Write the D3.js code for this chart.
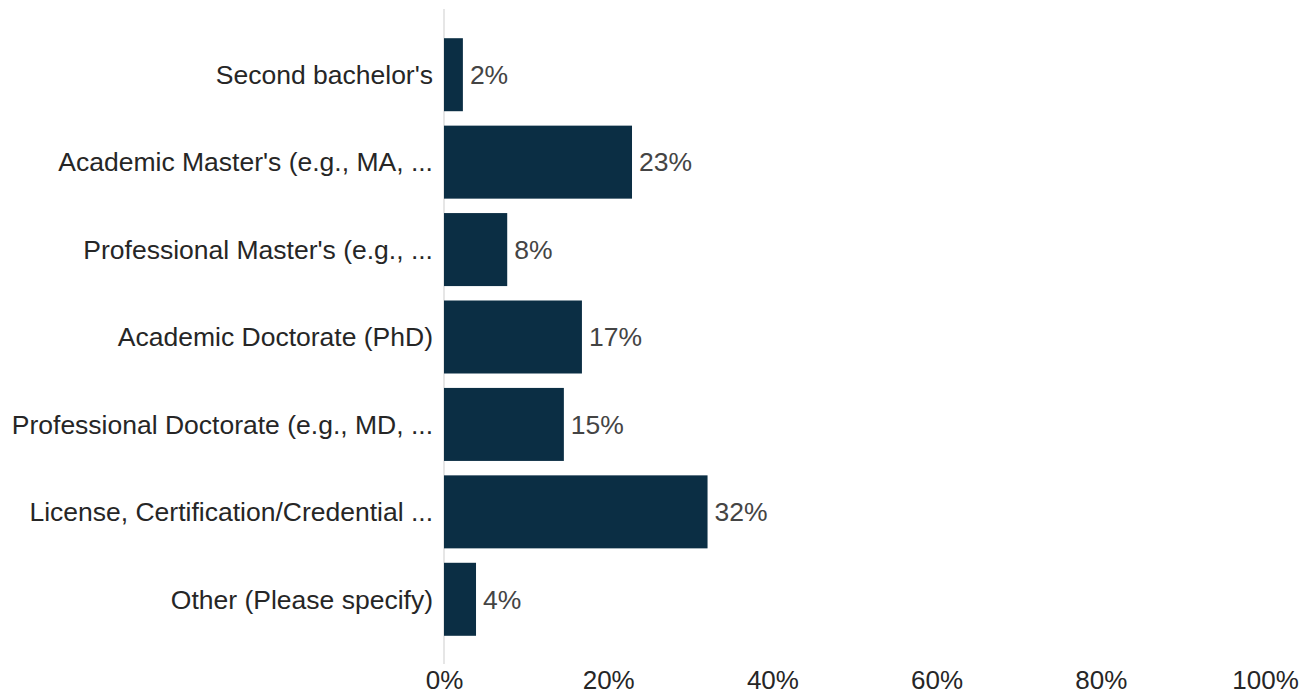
<!DOCTYPE html>
<html><head><meta charset="utf-8">
<script src="https://cdn.jsdelivr.net/npm/d3@7"></script>
<style>body{margin:0;background:#fff;}svg{display:block;}</style>
</head><body>
<svg id="chart" width="1307" height="694"></svg>
<script>
const categories = ["Second bachelor's","Academic Master's (e.g., MA, ...","Professional Master's (e.g., ...","Academic Doctorate (PhD)","Professional Doctorate (e.g., MD, ...","License, Certification/Credential ...","Other (Please specify)"];
const values = [2.3, 22.9, 7.7, 16.8, 14.6, 32.1, 3.9];
const valueLabels = ["2%","23%","8%","17%","15%","32%","4%"];
const tickValues = [0,20,40,60,80,100];

const svg = d3.select("#chart");
const font = "'Liberation Sans', Arial, sans-serif";
const x = d3.scaleLinear().domain([0,100]).range([444,1265]);
const y = d3.scaleBand().domain(categories).range([31,643]).paddingInner(0.165).paddingOuter(0.0825);

svg.append("line").attr("x1",x(0)).attr("x2",x(0)).attr("y1",9).attr("y2",664)
  .attr("stroke","#e6e6e6").attr("stroke-width",2);

svg.selectAll("rect.bar").data(categories).join("rect").attr("class","bar")
  .attr("x",x(0)).attr("y",d=>y(d)).attr("height",y.bandwidth())
  .attr("width",(d,i)=>x(values[i])-x(0)).attr("fill","#0b2e44");

svg.selectAll("text.cat").data(categories).join("text").attr("class","cat")
  .attr("x",x(0)-11).attr("y",d=>y(d)+y.bandwidth()/2).attr("dy","0.35em")
  .attr("text-anchor","end").attr("font-family",font).attr("font-size",26.5).attr("fill","#262626")
  .text(d=>d);

svg.selectAll("text.val").data(categories).join("text").attr("class","val")
  .attr("x",(d,i)=>x(values[i])+7).attr("y",d=>y(d)+y.bandwidth()/2).attr("dy","0.35em")
  .attr("font-family",font).attr("font-size",26.5).attr("fill","#444")
  .text((d,i)=>valueLabels[i]);

const ax = svg.append("g").attr("transform","translate(0,664)")
  .call(d3.axisBottom(x).tickValues(tickValues).tickFormat(d=>d+"%").tickSize(0).tickPadding(7));
ax.select(".domain").remove();
ax.selectAll("text").attr("font-family",font).attr("font-size",26).attr("fill","#262626");
</script>
</body></html>
